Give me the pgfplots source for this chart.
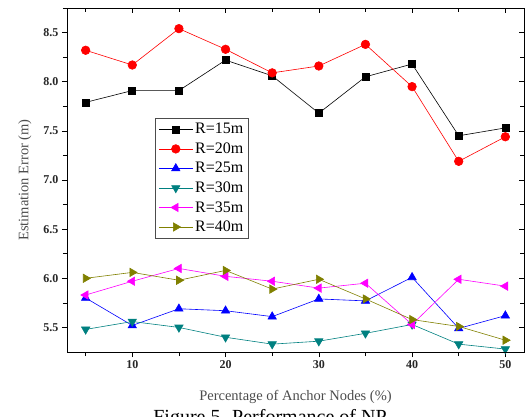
\documentclass[border=0pt]{standalone}
\usepackage{pgfplots}
\pgfplotsset{compat=1.18}
\usepackage{fontspec}
\setmainfont{Liberation Serif}
\definecolor{cteal}{RGB}{0,128,128}
\definecolor{colive}{RGB}{128,128,0}
\definecolor{cmag}{RGB}{255,0,255}
\definecolor{cblue}{RGB}{0,0,255}
\definecolor{cred}{RGB}{255,0,0}
\begin{document}
\begin{tikzpicture}
\clip (-67pt,-64pt) rectangle (460pt,352pt);
\begin{axis}[
  at={(0pt,0pt)}, anchor=south west,
  scale only axis, width=457pt, height=344pt,
  xmin=3, xmax=52, ymin=5.25, ymax=8.75,
  xtick={10,20,30,40,50}, minor xtick={5,15,25,35,45},
  ytick={5.5,6,...,8.5}, minor ytick={5.75,6.25,...,8.75},
  tick pos=left, tick align=outside,
  major tick length=5pt, minor tick length=4pt,
  every tick/.style={black, line width=0.6pt},
  axis line style={line width=0.9pt},
  /pgf/number format/assume math mode=true,
  tick label style={font=\bfseries\fontsize{12}{12}\selectfont, text=black!85},
  yticklabel style={/pgf/number format/.cd, fixed, fixed zerofill, precision=1},
  xlabel={Percentage of Anchor Nodes (\%)},
  ylabel={Estimation Error (m)},
  label style={font=\fontsize{14.5}{14.5}\selectfont, text=black!70},
  xlabel style={at={(0.5,0)}, anchor=center, yshift=-45pt},
  ylabel style={at={(0,0.5)}, anchor=center, yshift=42pt},
  legend style={at={(0.193,0.680)}, anchor=north west, draw=black!70, line width=0.6pt,
    font=\fontsize{16}{16}\selectfont, inner sep=3pt, row sep=3.4pt},
  legend cell align=left,
  legend image code/.code={\draw[mark repeat=2,mark phase=2] plot coordinates {(0pt,0pt)(17pt,0pt)(34pt,0pt)};},
  every axis plot/.append style={line width=0.6pt},
]
\addplot[black, mark=square*, mark size=3.5pt, mark options={fill=black}] coordinates {
(5,7.79)(10,7.91)(15,7.91)(20,8.22)(25,8.06)(30,7.68)(35,8.05)(40,8.18)(45,7.45)(50,7.53)};
\addlegendentry{R=15m}
\addplot[cred, mark=*, mark size=4.3pt, mark options={fill=cred}] coordinates {
(5,8.32)(10,8.17)(15,8.54)(20,8.33)(25,8.09)(30,8.16)(35,8.38)(40,7.95)(45,7.19)(50,7.44)};
\addlegendentry{R=20m}
\addplot[cblue, mark=triangle*, mark size=4.8pt, mark options={fill=cblue}] coordinates {
(5,5.80)(10,5.52)(15,5.69)(20,5.67)(25,5.61)(30,5.79)(35,5.77)(40,6.01)(45,5.49)(50,5.62)};
\addlegendentry{R=25m}
\addplot[cteal, mark=triangle*, mark size=4.8pt, mark options={fill=cteal, rotate=180}] coordinates {
(5,5.48)(10,5.56)(15,5.50)(20,5.40)(25,5.33)(30,5.36)(35,5.44)(40,5.53)(45,5.33)(50,5.28)};
\addlegendentry{R=30m}
\addplot[cmag, mark=triangle*, mark size=4.8pt, mark options={fill=cmag, rotate=90}] coordinates {
(5,5.83)(10,5.97)(15,6.10)(20,6.02)(25,5.97)(30,5.90)(35,5.95)(40,5.53)(45,5.99)(50,5.92)};
\addlegendentry{R=35m}
\addplot[colive, mark=triangle*, mark size=4.8pt, mark options={fill=colive, rotate=-90}] coordinates {
(5,6.00)(10,6.06)(15,5.98)(20,6.08)(25,5.89)(30,5.99)(35,5.79)(40,5.58)(45,5.51)(50,5.37)};
\addlegendentry{R=40m}
\end{axis}
\begin{axis}[
  at={(0pt,0pt)}, anchor=south west,
  scale only axis, width=457pt, height=344pt,
  xmin=3, xmax=52, ymin=5.25, ymax=8.75,
  xtick={10,20,30,40,50}, minor xtick={5,15,25,35,45},
  ytick={5.5,6,...,8.5}, minor ytick={5.75,6.25,...,8.75},
  tick pos=right, tick align=inside,
  major tick length=5pt, minor tick length=4pt,
  every tick/.style={black, line width=0.6pt},
  axis line style={line width=0.9pt},
  xticklabels={}, yticklabels={},
]
\end{axis}
\node[anchor=base, font=\fontsize{20}{20}\selectfont] at (203pt,-71pt) {Figure 5. Performance of NP};
\end{tikzpicture}
\end{document}
